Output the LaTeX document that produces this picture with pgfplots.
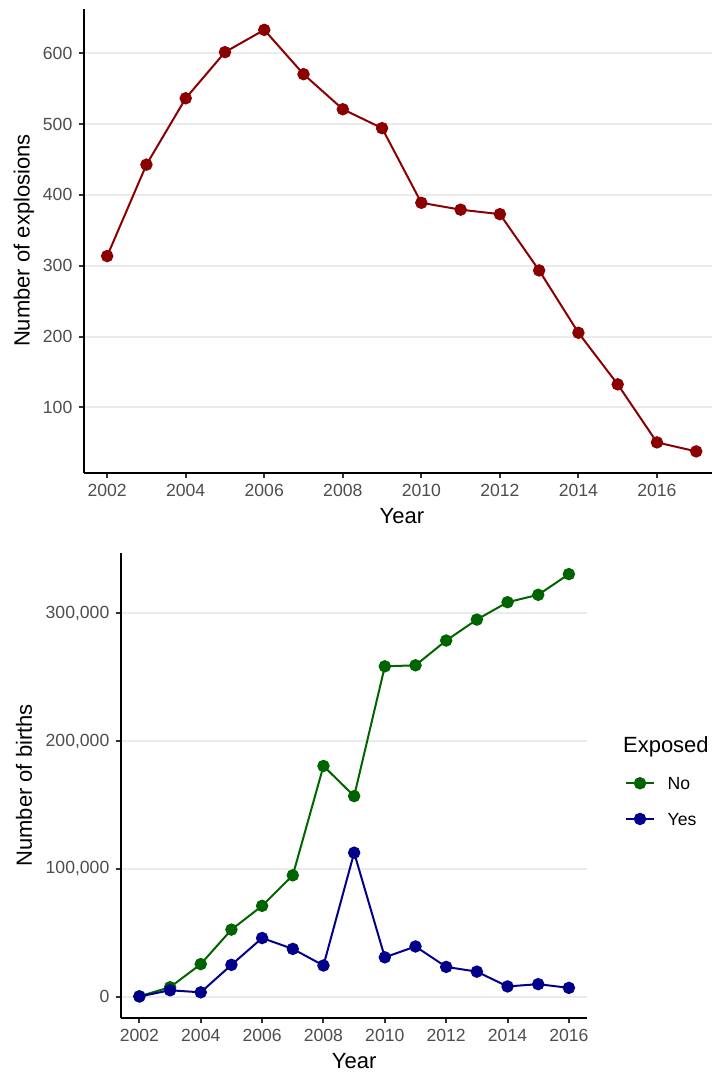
\documentclass[border=0pt]{standalone}
\usepackage{fontspec}
\setmainfont{Liberation Sans}
\usepackage{pgfplots}
\pgfplotsset{compat=1.18}
\definecolor{gridc}{HTML}{EBEBEB}
\definecolor{tickc}{HTML}{4D4D4D}
\definecolor{tickm}{HTML}{333333}
\definecolor{cred}{HTML}{8B0000}
\definecolor{cgreen}{HTML}{006400}
\definecolor{cblue}{HTML}{00008B}
\pgfplotsset{
  common/.style={
    scale only axis,
    axis x line=bottom, axis y line=left,
    axis line style={-, line width=1pt, black},
    ymajorgrids, major grid style={gridc, line width=1pt},
    tick align=outside, major tick length=2.75pt,
    every tick/.style={tickm, line width=1pt},
    tick label style={font=\fontsize{8.8}{10}\selectfont, text=tickc, inner sep=0pt},
    xticklabel style={anchor=north, yshift=-2.95pt, /pgf/number format/1000 sep={}},
    yticklabel style={anchor=east, xshift=-2.9pt},
    label style={font=\fontsize{11}{13}\selectfont},
    /pgf/number format/assume math mode=true,
    xlabel style={at={(axis description cs:0.5,0)}, anchor=base, yshift=-25.5pt},
    xtick={2002,2004,...,2016},
    every axis plot/.append style={line width=1pt, mark=*, mark size=2.6pt},
  }
}
\pgfplotstableread{
year n
2002 313.6
2003 442.7
2004 536.4
2005 601.5
2006 633.0
2007 570.4
2008 520.9
2009 494.2
2010 388.8
2011 379.1
2012 372.8
2013 293.3
2014 205.3
2015 132.5
2016 50.5
2017 37.8
}\explosions
\pgfplotstableread{
year no yes
2002 300 150
2003 7400 5000
2004 25500 3400
2005 52500 24900
2006 71100 45900
2007 95000 37400
2008 180600 24400
2009 157000 112700
2010 258600 30800
2011 259400 39300
2012 278800 23300
2013 295200 19600
2014 308800 8000
2015 314600 9800
2016 330800 6900
}\births
\begin{document}
\begin{tikzpicture}
\useasboundingbox (0,0) rectangle (356pt,-536pt);
\begin{axis}[common,
  at={(42pt,-236.25pt)}, anchor=south west,
  width=317.9pt, height=231.95pt,
  xmin=2001.41, xmax=2017.6, ymin=8, ymax=663,
  ytick={100,200,...,600},
  xlabel={Year}, ylabel={Number of explosions},
  ylabel style={at={(axis description cs:-0.0944,0.5)}, anchor=center},
]
\addplot[cred, mark options={fill=cred}] table[x=year, y=n] {\explosions};
\end{axis}
\begin{axis}[common,
  at={(60.5pt,-508.9pt)}, anchor=south west,
  width=233.15pt, height=232.45pt,
  xmin=2001.4, xmax=2016.6, ymin=-16550, ymax=347400,
  ytick={0,100000,200000,300000}, scaled y ticks=false,
  yticklabel style={/pgf/number format/.cd, fixed, 1000 sep={,}},
  xlabel={Year}, ylabel={Number of births},
  ylabel style={at={(axis description cs:-0.208,0.5)}, anchor=center},
  legend style={draw=none, fill=none, inner sep=0pt, outer sep=0pt,
    at={(axis description cs:1.0809,0.5429)}, anchor=north west,
    font=\fontsize{8.8}{10}\selectfont, row sep=0pt, column sep=6.3pt,
    nodes={inner sep=0pt, outer sep=0pt, text depth=0pt, minimum height=17.85pt},
    cells={anchor=west}},
  legend image code/.code={\draw[mark repeat=2, mark phase=2, #1] plot coordinates {(0pt,0pt) (7pt,0pt) (14pt,0pt)};},
]
\addplot[cgreen, mark options={fill=cgreen}] table[x=year, y=no] {\births};
\addlegendentry{No}
\addplot[cblue, mark options={fill=cblue}] table[x=year, y=yes] {\births};
\addlegendentry{Yes}
\end{axis}
\node[anchor=base west, font=\fontsize{11}{13}\selectfont, inner sep=0pt] at (311.35pt,-376.15pt) {Exposed};
\end{tikzpicture}
\end{document}
